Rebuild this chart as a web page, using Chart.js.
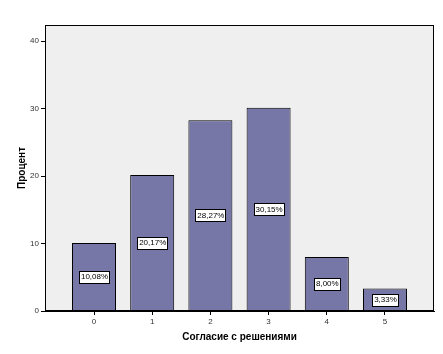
<!DOCTYPE html>
<html><head><meta charset="utf-8">
<script src="https://cdn.jsdelivr.net/npm/chart.js@4"></script>
<style>html,body{margin:0;padding:0;background:#fff}#wrap{width:443px;height:354px}</style>
</head><body><div id="wrap"><canvas id="c" width="443" height="354"></canvas></div>
<script>
const categories = [0, 1, 2, 3, 4, 5];
const percents = [10.08, 20.17, 28.27, 30.15, 8.00, 3.33];
const percentLabels = ['10,08%', '20,17%', '28,27%', '30,15%', '8,00%', '3,33%'];
const yTicks = [0, 10, 20, 30, 40];
const xTitle = 'Согласие с решениями';
const yTitle = 'Процент';

const frame = {
  id: 'frame',
  beforeDraw(chart) {
    const a = chart.chartArea, ctx = chart.ctx;
    ctx.save(); ctx.fillStyle = '#efefef';
    ctx.fillRect(a.left, a.top, a.right - a.left, a.bottom - a.top);
    ctx.restore();
  },
  afterDatasetsDraw(chart) {
    const a = chart.chartArea, ctx = chart.ctx;
    ctx.save();
    ctx.strokeStyle = '#000'; ctx.lineWidth = 1;
    ctx.strokeRect(a.left + 0.5, a.top + 0.5, a.right - a.left - 1, a.bottom - a.top - 1);
    const meta = chart.getDatasetMeta(0);
    ctx.font = '8px Arial, "Liberation Sans"';
    ctx.textAlign = 'center'; ctx.textBaseline = 'middle';
    meta.data.forEach((bar, i) => {
      const y = (bar.y + bar.base) / 2;
      const t = percentLabels[i];
      const w = Math.round(ctx.measureText(t).width) + 3, h = 12;
      const x0 = Math.round(bar.x - w / 2) + 0.5, y0 = Math.round(y - h / 2) + 0.5;
      ctx.fillStyle = '#fff'; ctx.fillRect(x0, y0, w, h);
      ctx.strokeStyle = '#000'; ctx.strokeRect(x0, y0, w, h);
      ctx.fillStyle = '#000'; ctx.fillText(t, bar.x + 0.5, y + 0.5);
    });
    ctx.restore();
  }
};

new Chart(document.getElementById('c'), {
  type: 'bar',
  data: {
    datasets: [{
      data: categories.map((c, i) => ({ x: c, y: percents[i] })),
      backgroundColor: '#7777a7',
      borderColor: '#000',
      borderWidth: 1,
      barPercentage: 0.756,
      categoryPercentage: 1
    }]
  },
  options: {
    responsive: false,
    animation: false,
    layout: { padding: { top: 25, right: 9, left: 0, bottom: 0 } },
    plugins: { legend: { display: false }, tooltip: { enabled: false } },
    scales: {
      x: {
        type: 'linear', min: -0.842, max: 5.842, offset: false,
        afterBuildTicks(s) { s.ticks = categories.map(v => ({ value: v })); },
        afterFit(s) { s.height = 43; },
        grid: { drawOnChartArea: false, tickLength: 4, color: '#000', offset: false },
        border: { display: true, color: '#000' },
        ticks: { font: { size: 8, family: 'Arial' }, color: '#333', padding: 2, maxRotation: 0 },
        title: { display: true, text: xTitle, font: { size: 10, weight: 'bold', family: 'Arial' }, color: '#000', padding: { top: 0, bottom: 11 } }
      },
      y: {
        type: 'linear', min: 0, max: 42.4,
        afterBuildTicks(s) { s.ticks = yTicks.map(v => ({ value: v })); },
        afterFit(s) { s.width = 45; },
        grid: { drawOnChartArea: false, tickLength: 4, color: '#000' },
        border: { display: true, color: '#000' },
        ticks: { font: { size: 8, family: 'Arial' }, color: '#333', padding: 2 },
        title: { display: true, text: yTitle, font: { size: 10, weight: 'bold', family: 'Arial' }, color: '#000', padding: { top: 16, bottom: 0 } }
      }
    }
  },
  plugins: [frame]
});
</script></body></html>
